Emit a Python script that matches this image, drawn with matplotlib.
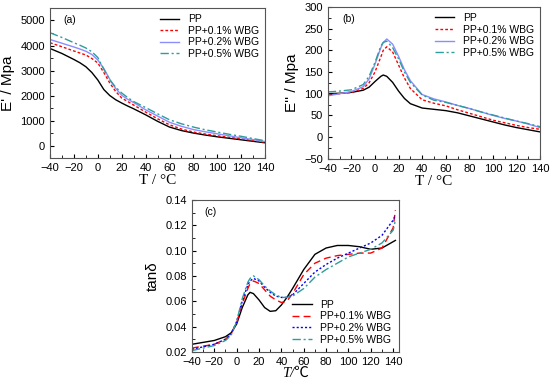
import numpy as np
import matplotlib
matplotlib.use('Agg')
import matplotlib.pyplot as plt
import matplotlib.ticker as tck

plt.rcParams['font.family'] = ['Liberation Sans', 'DejaVu Sans']

## ------------------------- datos ------------------------- ##
labels = ['PP', 'PP+0.1% WBG', 'PP+0.2% WBG', 'PP+0.5% WBG']

# (a) modulo de almacenamiento E'
T_a = [-40, -30, -20, -15, -10, -5, 0, 5, 10, 15, 20, 25, 30, 40, 50, 60, 70, 80, 90, 100, 110, 120, 130, 140]
Ea_pp  = [3880, 3680, 3440, 3310, 3150, 2920, 2620, 2240, 2000, 1830, 1700, 1580, 1470, 1230, 970, 740, 600, 500, 420, 350, 290, 230, 170, 110]
Ea_01  = [4110, 3950, 3780, 3700, 3620, 3480, 3300, 2920, 2500, 2160, 1900, 1760, 1620, 1340, 1070, 830, 660, 540, 460, 390, 330, 270, 200, 130]
Ea_02  = [4240, 4090, 3940, 3860, 3770, 3640, 3420, 3080, 2650, 2280, 2010, 1850, 1720, 1430, 1180, 930, 770, 640, 550, 470, 390, 310, 240, 160]
Ea_05  = [4510, 4320, 4110, 4010, 3900, 3750, 3520, 3050, 2620, 2330, 2100, 1920, 1760, 1520, 1270, 1030, 870, 740, 630, 540, 450, 370, 280, 190]

# (b) modulo de perdida E''
T_b = [-40, -30, -20, -10, -5, 0, 5, 7, 10, 15, 20, 25, 30, 40, 50, 60, 70, 80, 90, 100, 110, 120, 130, 140]
Eb_pp  = [100, 101, 103, 108, 115, 128, 140, 143, 140, 126, 106, 89, 77, 67, 64, 61, 56, 49, 42, 35, 28, 22, 17, 12]
Eb_01  = [98, 100, 103, 112, 125, 150, 185, 200, 208, 196, 166, 136, 112, 86, 78, 72, 63, 55, 47, 39, 33, 27, 22, 18]
Eb_02  = [95, 100, 105, 116, 134, 168, 206, 218, 226, 214, 186, 155, 130, 98, 88, 81, 73, 66, 58, 50, 43, 37, 30, 22]
Eb_05  = [104, 106, 109, 121, 140, 172, 210, 218, 221, 206, 180, 150, 126, 97, 85, 80, 73, 66, 58, 51, 44, 37, 31, 24]

# (c) tan delta
T_c = [-40, -30, -20, -10, -5, 0, 5, 10, 12, 15, 20, 25, 30, 35, 40, 45, 50, 60, 70, 80, 90, 100, 110, 120, 130, 140, 142]
tan_pp = [0.026, 0.0275, 0.029, 0.032, 0.035, 0.042, 0.055, 0.065, 0.067, 0.066, 0.061, 0.055, 0.052, 0.0525, 0.057, 0.063, 0.070, 0.085, 0.097, 0.102, 0.104, 0.104, 0.103, 0.101, 0.102, 0.107, 0.108]
tan_01 = [0.023, 0.0245, 0.026, 0.030, 0.034, 0.043, 0.058, 0.070, 0.074, 0.076, 0.074, 0.069, 0.064, 0.061, 0.059, 0.060, 0.066, 0.081, 0.090, 0.094, 0.096, 0.097, 0.098, 0.098, 0.102, 0.118, 0.132]
tan_02 = [0.022, 0.024, 0.026, 0.030, 0.034, 0.044, 0.060, 0.073, 0.076, 0.078, 0.076, 0.071, 0.067, 0.064, 0.063, 0.063, 0.065, 0.074, 0.083, 0.089, 0.094, 0.098, 0.102, 0.106, 0.112, 0.124, 0.128]
tan_05 = [0.021, 0.023, 0.025, 0.029, 0.033, 0.044, 0.062, 0.075, 0.078, 0.080, 0.077, 0.072, 0.068, 0.065, 0.063, 0.063, 0.064, 0.070, 0.079, 0.085, 0.090, 0.095, 0.098, 0.101, 0.106, 0.116, 0.124]

## ------------------------------- estilos ------------------------------------ ##
col = ['black', 'red', '#8c8cff', '#2e9c9c']
ls_ab = ['-', (0, (2, 1.5)), '-', (0, (6, 2, 1.5, 2))]
col_c = ['black', 'red', 'blue', '#2e9c9c']
ls_c = ['-', (0, (5, 3)), (0, (1.5, 1.5)), (0, (6, 2, 1.5, 2))]
fuente_y = dict(fontsize=11, family='Liberation Sans')
fuente_x = dict(fontsize=11, family='Liberation Serif')


def estilo(ax):
    ax.tick_params(direction='in', which='both', labelsize=8, length=3, top=False, right=False)
    ax.tick_params(which='minor', length=2)
    for s in ax.spines.values():
        s.set_edgecolor('#555555')
        s.set_linewidth(0.8)


fig = plt.figure(figsize=(5.5, 3.8), dpi=100)

## (a)
ax1 = fig.add_axes([0.091, 0.584, 0.391, 0.395])
for y, c, l, lab in zip([Ea_pp, Ea_01, Ea_02, Ea_05], col, ls_ab, labels):
    ax1.plot(T_a, y, color=c, linestyle=l, lw=1.0, label=lab)
ax1.set_xlim(-40, 140)
ax1.set_ylim(-500, 5500)
ax1.xaxis.set_major_locator(tck.MultipleLocator(20))
ax1.xaxis.set_minor_locator(tck.MultipleLocator(10))
ax1.yaxis.set_major_locator(tck.MultipleLocator(1000))
ax1.yaxis.set_minor_locator(tck.MultipleLocator(500))
estilo(ax1)
ax1.set_ylabel("E' / Mpa", **fuente_y)
ax1.set_xlabel('T / \u00b0C', labelpad=1, **fuente_x)
ax1.text(0.06, 0.9, '(a)', transform=ax1.transAxes, fontsize=7.5)
ax1.legend(loc='upper right', frameon=False, fontsize=7.5, handlelength=1.9,
           labelspacing=0.15, borderaxespad=0.2)

## (b)
ax2 = fig.add_axes([0.596, 0.582, 0.386, 0.4])
for y, c, l, lab in zip([Eb_pp, Eb_01, Eb_02, Eb_05], col, ls_ab, labels):
    ax2.plot(T_b, y, color=c, linestyle=l, lw=1.0, label=lab)
ax2.set_xlim(-40, 140)
ax2.set_ylim(-50, 300)
ax2.xaxis.set_major_locator(tck.MultipleLocator(20))
ax2.xaxis.set_minor_locator(tck.MultipleLocator(10))
ax2.yaxis.set_major_locator(tck.MultipleLocator(50))
ax2.yaxis.set_minor_locator(tck.MultipleLocator(25))
estilo(ax2)
ax2.set_ylabel("E'' / Mpa", **fuente_y)
ax2.set_xlabel('T / \u00b0C', labelpad=1, **fuente_x)
ax2.text(0.07, 0.9, '(b)', transform=ax2.transAxes, fontsize=7.5)
ax2.legend(loc='upper right', frameon=False, fontsize=7.5, handlelength=1.9,
           labelspacing=0.15, borderaxespad=0.2)

## (c)
ax3 = fig.add_axes([0.349, 0.074, 0.376, 0.4])
for y, c, l, lab in zip([tan_pp, tan_01, tan_02, tan_05], col_c, ls_c, labels):
    ax3.plot(T_c, y, color=c, linestyle=l, lw=1.0, label=lab)
ax3.set_xlim(-40, 145)
ax3.set_ylim(0.02, 0.14)
ax3.xaxis.set_major_locator(tck.MultipleLocator(20))
ax3.xaxis.set_minor_locator(tck.MultipleLocator(10))
ax3.yaxis.set_major_locator(tck.MultipleLocator(0.02))
ax3.yaxis.set_minor_locator(tck.MultipleLocator(0.01))
ax3.yaxis.set_major_formatter(tck.FormatStrFormatter('%.2f'))
estilo(ax3)
ax3.set_ylabel('tan\u03b4', **fuente_y)
ax3.set_xlabel('T/\u2103', fontsize=10.5, fontstyle='italic', labelpad=0,
               family=['Liberation Serif', 'Noto Sans CJK SC'])
ax3.text(0.06, 0.9, '(c)', transform=ax3.transAxes, fontsize=7.5)
ax3.legend(loc='lower right', frameon=False, fontsize=7.5, handlelength=1.9,
           labelspacing=0.15, borderaxespad=0.3)

plt.savefig('out.png', dpi=100)
